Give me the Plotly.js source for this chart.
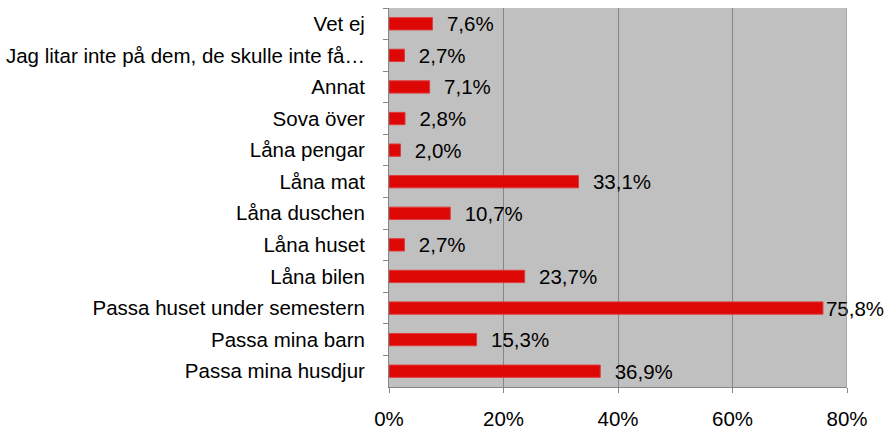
<!DOCTYPE html>
<html><head><meta charset="utf-8">
<script src="https://cdn.plot.ly/plotly-3.0.1.min.js"></script>
<style>html,body{margin:0;padding:0;background:#fff}#chart{width:888px;height:431px}</style>
</head><body><div id="chart"></div>
<script>
// categories listed top to bottom
const categories = [
  "Vet ej",
  "Jag litar inte på dem, de skulle inte få…",
  "Annat",
  "Sova över",
  "Låna pengar",
  "Låna mat",
  "Låna duschen",
  "Låna huset",
  "Låna bilen",
  "Passa huset under semestern",
  "Passa mina barn",
  "Passa mina husdjur"
];
const values = [7.6, 2.7, 7.1, 2.8, 2.0, 33.1, 10.7, 2.7, 23.7, 75.8, 15.3, 36.9];
const xTickVals = [0, 20, 40, 60, 80];
const xTickText = ["0%", "20%", "40%", "60%", "80%"];

const labels = values.map(v => (v > 70 ? "" : "  ") + v.toFixed(1).replace(".", ",") + "%");

const FS = 20.5;
const trace = {
  type: "bar",
  orientation: "h",
  y: categories,
  x: values,
  text: labels,
  textposition: "outside",
  cliponaxis: false,
  constraintext: "none",
  textfont: {family: "Liberation Sans, Arial, sans-serif", size: FS, color: "#000"},
  marker: {color: "#DD0806", line: {color: "#E03a3a", width: 1}},
  width: 0.39,
  hoverinfo: "skip"
};

const layout = {
  width: 888, height: 431,
  margin: {l: 389, r: 41, t: 8, b: 44, pad: 0},
  paper_bgcolor: "#ffffff",
  plot_bgcolor: "#C0C0C0",
  showlegend: false,
  font: {family: "Liberation Sans, Arial, sans-serif", size: FS, color: "#000"},
  xaxis: {
    range: [0, 80],
    tickvals: xTickVals,
    ticktext: xTickText,
    showgrid: true, gridcolor: "#868686", gridwidth: 1,
    zeroline: false,
    showline: true, linecolor: "#868686", linewidth: 1, mirror: false,
    ticks: "outside", ticklen: 5, tickcolor: "#868686",
    ticklabelstandoff: 8,
    tickfont: {size: FS}
  },
  yaxis: {
    type: "category",
    categoryorder: "array",
    categoryarray: categories,
    autorange: "reversed",
    showgrid: false, zeroline: false,
    showline: true, linecolor: "#868686", linewidth: 1,
    ticks: "outside", ticklen: 5, tickcolor: "#868686",
    tickson: "boundaries",
    ticklabelstandoff: 19,
    tickfont: {size: FS}
  },
  shapes: [
    {type: "line", xref: "x", yref: "paper", x0: 80, x1: 80, y0: 0, y1: 1, line: {color: "#868686", width: 1}}
  ]
};

Plotly.newPlot("chart", [trace], layout, {displayModeBar: false, staticPlot: true});
</script></body></html>
